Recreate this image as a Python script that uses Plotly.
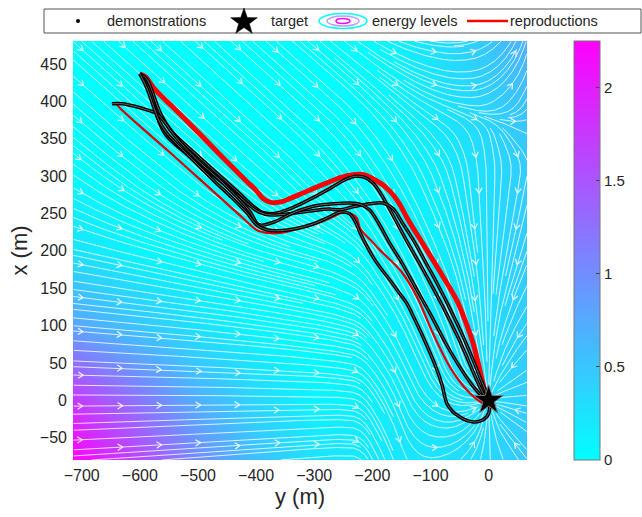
import math
from bisect import bisect_right
import numpy as np
import plotly.graph_objects as go

# ---------------- axis extents (horizontal = "y (m)", vertical = "x (m)") ----
H_RANGE = [-715, 66]
V_RANGE = [-80, 481]
H_TICKS = [-700, -600, -500, -400, -300, -200, -100, 0]
V_TICKS = [-50, 0, 50, 100, 150, 200, 250, 300, 350, 400, 450]
CB_TICKS = [0, 0.5, 1, 1.5, 2]
LEGEND_NAMES = ["demonstrations", "target", "energy levels", "reproductions"]

# ---------------- demonstrations (y = horizontal, x = vertical) --------------
demo1_y = [-600, -588, -578, -565, -545, -510, -470, -430, -405, -390, -370, -340, -300, -270, -245, -228,
           -212, -198, -185, -165, -140, -115, -90, -65, -42, -25, -12, -4, 0]
demo1_x = [437, 430, 412, 385, 360, 334, 306, 278, 260, 252, 250, 257, 272, 285, 296, 300,
           298, 290, 276, 248, 212, 178, 142, 104, 66, 35, 13, 3, 0]
demo2_y = [-600, -585, -575, -568, -555, -520, -480, -440, -410, -395, -375, -340, -300, -275, -256, -233,
           -205, -182, -165, -148, -130, -110, -89, -70, -49, -30, -15, -5, 0]
demo2_x = [437, 418, 395, 375, 355, 330, 305, 280, 260, 252, 248, 250, 254, 256, 255, 259,
           263, 264, 257, 237, 215, 187, 157, 128, 94, 60, 31, 12, 0]
demo3_y = [-648, -630, -606, -585, -571, -560, -548, -530, -500, -460, -430, -410, -395, -368, -336, -300,
           -267, -239, -220, -205, -190, -170, -150, -125, -100, -75, -50, -28, -12, 0]
demo3_x = [397, 397, 393, 388, 384, 375, 362, 345, 321, 293, 270, 252, 235, 239, 251, 260,
           263, 264, 262, 255, 238, 210, 185, 150, 115, 78, 45, 20, 6, 0]
demo4_y = [-600, -592, -584, -576, -568, -556, -530, -500, -470, -440, -415, -398, -380, -359, -330, -302,
           -275, -255, -240, -230, -221, -210, -199, -185, -170, -155, -141, -127, -113, -100,
           -89, -80, -72, -62, -50, -38, -27, -15, -3, 2, 0]
demo4_x = [437, 425, 410, 392, 376, 360, 338, 315, 292, 270, 250, 234, 228, 227, 230, 236,
           245, 252, 250, 240, 224, 207, 192, 176, 161, 145, 130, 108, 85, 62,
           41, 20, -4, -15, -22, -27, -29, -28, -22, -10, 0]
DEMOS = [(demo1_y, demo1_x), (demo2_y, demo2_x), (demo3_y, demo3_x), (demo4_y, demo4_x)]

# ---------------- reproductions ----------------------------------------------
rep1_y = [-600, -590, -577, -560, -540, -500, -460, -420, -400, -388, -375, -355, -336, -300, -278, -255,
          -233, -215, -200, -185, -170, -155, -141, -120, -96, -75, -55, -40, -27, -18, -10, -4, 0]
rep1_x = [437, 433, 419, 405, 390, 359, 327, 296, 281, 270, 265, 266, 272, 284, 291, 298,
          302, 302, 297, 290, 280, 265, 245, 218, 188, 161, 134, 106, 77, 50, 23, 8, 0]
rep2_y = [-648, -640, -634, -600, -550, -500, -450, -420, -399, -380, -359, -330, -302, -275, -251, -238,
          -227, -221, -200, -187, -152, -123, -96, -67, -38, -18, -8, 0]
rep2_x = [398, 396, 391, 367, 333, 298, 263, 242, 228, 224, 224, 229, 235, 243, 251, 250,
          244, 230, 212, 201, 174, 138, 90, 45, 14, 0, -4, 0]

TARGET_Y = [0]
TARGET_X = [0]

# ---------------- energy background -----------------
energy_y = [-715, -600, -500, -400, -300, -200, -100, 0, 66]
energy_x = [-80, 0, 100, 200, 300, 400, 481]
energy_z = [
    [2.25, 1.6, 1.0, 0.55, 0.25, 0.2, 0.25, 0.35, 0.5],
    [1.75, 1.2, 0.7, 0.35, 0.1, 0.15, 0.2, 0.3, 0.45],
    [0.8, 0.5, 0.25, 0.08, 0.0, 0.1, 0.2, 0.3, 0.45],
    [0.25, 0.08, 0.0, 0.0, 0.0, 0.05, 0.15, 0.3, 0.45],
    [0.05, 0.0, 0.0, 0.0, 0.0, 0.05, 0.15, 0.3, 0.45],
    [0.0, 0.0, 0.0, 0.0, 0.0, 0.05, 0.2, 0.4, 0.55],
    [0.0, 0.0, 0.0, 0.0, 0.0, 0.05, 0.25, 0.5, 0.7],
]

# ---------------- flow directions read from the streamlines (screen degrees) -
flow_y = [-715, -600, -500, -400, -300, -240, -205, -150, -80, -30, 0, 30, 66]
flow_x = [-80, -30, 0, 30, 60, 130, 200, 300, 350, 400, 481]
flow_angle = [
    [4, 4, 4, 5, 5, 0, -62, -72, 20, 60, 90, 115, 125],
    [2, 2, 2, 3, 3, -3, -58, -70, -10, 45, 90, 135, 150],
    [0, 0, 0, 0, 0, -5, -55, -68, -35, 0, None, 180, 175],
    [-1, -1, -2, -2, -3, -8, -52, -66, -60, -45, -90, -135, -150],
    [-3, -3, -4, -4, -6, -10, -50, -65, -70, -75, -90, -115, -135],
    [-6, -7, -8, -10, -12, -20, -52, -62, -68, -80, -90, -105, -120],
    [-12, -15, -18, -18, -15, -35, -57, -62, -68, -80, -90, -100, -110],
    [-35, -38, -40, -42, -48, -52, -57, -60, -70, -85, -90, -95, -100],
    [-40, -40, -42, -42, -45, -50, -53, -55, -50, -70, -80, -60, -30],
    [-42, -42, -42, -42, -42, -44, -45, -40, -20, 0, 25, 45, 65],
    [-42, -42, -42, -42, -40, -38, -33, -20, -5, 15, 35, 55, 75],
]

# ============================================================================
FIG_W, FIG_H = 642, 517
ML, MR, MT, MB = 73, 115, 41, 57
PW, PH = float(FIG_W - ML - MR), float(FIG_H - MT - MB)
H0, H1 = H_RANGE
V0, V1 = V_RANGE


def d2p(h, v):
    return (h - H0) / (H1 - H0) * PW, (v - V0) / (V1 - V0) * PH


def p2d(px, py):
    return H0 + px / PW * (H1 - H0), V0 + py / PH * (V1 - V0)


gx = [d2p(h, 0)[0] for h in flow_y]
gy = [d2p(0, v)[1] for v in flow_x]
GU = [[0.0 if a is None else math.cos(math.radians(a)) for a in row] for row in flow_angle]
GV = [[0.0 if a is None else math.sin(math.radians(a)) for a in row] for row in flow_angle]
nI, nJ = len(gx), len(gy)


def vel(px, py):
    i = min(max(bisect_right(gx, px) - 1, 0), nI - 2)
    j = min(max(bisect_right(gy, py) - 1, 0), nJ - 2)
    tx = min(max((px - gx[i]) / (gx[i + 1] - gx[i]), 0.0), 1.0)
    ty = min(max((py - gy[j]) / (gy[j + 1] - gy[j]), 0.0), 1.0)
    a, b, c, d = (1 - tx) * (1 - ty), tx * (1 - ty), (1 - tx) * ty, tx * ty
    u = a * GU[j][i] + b * GU[j][i + 1] + c * GU[j + 1][i] + d * GU[j + 1][i + 1]
    v = a * GV[j][i] + b * GV[j][i + 1] + c * GV[j + 1][i] + d * GV[j + 1][i + 1]
    return u, v, math.hypot(u, v)


TPX, TPY = d2p(TARGET_Y[0], TARGET_X[0])
CS = 8.6       # seed cell
FS = 3.0       # termination cell
ncx, ncy = int(math.ceil(PW / CS)), int(math.ceil(PH / CS))
nfx, nfy = int(math.ceil(PW / FS)) + 1, int(math.ceil(PH / FS)) + 1
coarse = np.zeros((ncx + 1, ncy + 1), dtype=bool)
fine = -np.ones((nfx + 1, nfy + 1), dtype=int)


def trace(px, py, sgn, lid):
    pts = []
    cur = (int(px / FS), int(py / FS))
    step = 1.0
    for _ in range(4000):
        u, v, n = vel(px, py)
        if n < 0.03:
            break
        mx, my = px + sgn * 0.5 * step * u / n, py + sgn * 0.5 * step * v / n
        u2, v2, n2 = vel(mx, my)
        if n2 < 0.03:
            break
        nx, ny = px + sgn * step * u2 / n2, py + sgn * step * v2 / n2
        if not (0 <= nx <= PW and 0 <= ny <= PH):
            break
        if math.hypot(nx - TPX, ny - TPY) < 2.0:
            pts.append((TPX, TPY))
            break
        c = (int(nx / FS), int(ny / FS))
        if c != cur:
            if fine[c] != -1 and fine[c] != lid:
                break
            fine[c] = lid
            cur = c
        coarse[int(nx / CS), int(ny / CS)] = True
        pts.append((nx, ny))
        px, py = nx, ny
    return pts


lines = []
N = ncx * ncy
lid = 0
for k in range(N):
    idx = (k * 7919) % N
    cx, cy = idx % ncx, idx // ncx
    if coarse[cx, cy]:
        continue
    sx, sy = (cx + 0.5) * CS, (cy + 0.5) * CS
    if sx > PW or sy > PH:
        continue
    fc = (int(sx / FS), int(sy / FS))
    if fine[fc] != -1:
        continue
    u, v, n = vel(sx, sy)
    if n < 0.05:
        continue
    fine[fc] = lid
    coarse[cx, cy] = True
    fwd = trace(sx, sy, 1, lid)
    bwd = trace(sx, sy, -1, lid)
    pts = bwd[::-1] + [(sx, sy)] + fwd
    if len(pts) > 4:
        lines.append(pts)
    lid += 1

sl_h, sl_v = [], []
allp, allt = [], []
for pts in lines:
    arr = np.array(pts)
    for (px, py) in pts:
        h, v = p2d(px, py)
        sl_h.append(h)
        sl_v.append(v)
    sl_h.append(None)
    sl_v.append(None)
    allp.append(arr)
    allt.append(np.gradient(arr, axis=0))
allp = np.vstack(allp)
allt = np.vstack(allt)

# arrowheads on a regular grid
ar_h, ar_v = [], []
L, ANG = 6.0, math.radians(32)
for ax_ in np.arange(10.0, PW, 39.3):
    for ay_ in np.arange(17.0, PH, 35.7):
        d = np.hypot(allp[:, 0] - ax_, allp[:, 1] - ay_)
        k = int(np.argmin(d))
        if d[k] > 7:
            continue
        px, py = allp[k]
        tx, ty = allt[k]
        tn = math.hypot(tx, ty)
        if tn < 1e-6:
            continue
        tx, ty = tx / tn, ty / tn
        h0, v0 = p2d(px, py)
        for s in (1, -1):
            ca, sa = math.cos(s * ANG), math.sin(s * ANG)
            bx = -(tx * ca - ty * sa)
            by = -(tx * sa + ty * ca)
            h1, v1 = p2d(px + L * bx, py + L * by)
            ar_h += [h1, h0, None]
            ar_v += [v1, v0, None]

# ============================================================================
cool = [[0, "rgb(0,255,255)"], [1, "rgb(255,0,255)"]]
fig = go.Figure()
fig.add_trace(go.Heatmap(
    x=energy_y, y=energy_x, z=energy_z, zsmooth="best", colorscale=cool, zmin=0, zmax=2.25,
    showscale=True, hoverinfo="skip", name="energy levels",
    colorbar=dict(
        xref="container", x=574 / FIG_W, xanchor="left", thickness=26, thicknessmode="pixels",
        yref="paper", y=0.5, yanchor="middle", len=1.0, lenmode="fraction",
        tickvals=CB_TICKS, ticktext=["0", "0.5", "1", "1.5", "2"], ticks="inside", ticklen=4,
        tickcolor="#444", outlinecolor="#777", outlinewidth=1, xpad=0, ypad=0,
        tickfont=dict(family="Liberation Sans, Arial", size=15, color="#262626"),
    ),
))
fig.add_trace(go.Scatter(x=sl_h, y=sl_v, mode="lines", line=dict(color="rgba(255,255,255,0.8)", width=1),
                         hoverinfo="skip"))
fig.add_trace(go.Scatter(x=ar_h, y=ar_v, mode="lines", line=dict(color="rgba(255,255,255,0.9)", width=1.2),
                         hoverinfo="skip"))
fig.add_trace(go.Scatter(x=rep2_y, y=rep2_x, mode="lines", name="reproductions",
                         line=dict(color="#e00000", width=2.2, shape="spline")))
fig.add_trace(go.Scatter(x=rep1_y, y=rep1_x, mode="lines", name="reproductions",
                         line=dict(color="#ff0000", width=5, shape="spline")))
for dy, dx in DEMOS:
    fig.add_trace(go.Scatter(x=dy, y=dx, mode="lines", name="demonstrations",
                             line=dict(color="black", width=3.5, shape="spline")))
    fig.add_trace(go.Scatter(x=dy, y=dx, mode="lines", hoverinfo="skip",
                             line=dict(color="rgba(140,140,140,0.7)", width=1, shape="spline")))
fig.add_trace(go.Scatter(x=TARGET_Y, y=TARGET_X, mode="markers", name="target",
                         marker=dict(symbol="star", size=22, color="black", line=dict(color="#777", width=1))))


# ---------------- legend (drawn in the top margin) ---------------------------
def px2paper(px, py):
    return (px - ML) / PW, (FIG_H - MB - py) / PH


LEG_Y = 21
shapes = []
annotations = []
bx0, by0 = px2paper(44, 9)
bx1, by1 = px2paper(641, 33)
shapes.append(dict(type="rect", xref="paper", yref="paper", x0=bx0, y0=by1, x1=bx1, y1=by0,
                   line=dict(color="#555", width=1), fillcolor="rgba(0,0,0,0)", layer="below"))
# dot glyph
dx0, dy0 = px2paper(76, LEG_Y + 2)
dx1, dy1 = px2paper(80, LEG_Y - 2)
shapes.append(dict(type="circle", xref="paper", yref="paper", x0=dx0, y0=dy1, x1=dx1, y1=dy0,
                   fillcolor="black", line=dict(width=0), layer="above"))
# star glyph
SCX, SCY, RO, RI = 244, LEG_Y + 1, 14, 5.6
pth = []
for k in range(10):
    rr = RO if k % 2 == 0 else RI
    a = math.radians(90 + 36 * k)
    qx, qy = px2paper(SCX + rr * math.cos(a), SCY - rr * math.sin(a))
    pth.append(("M" if k == 0 else "L") + f"{qx:.5f},{qy:.5f}")
shapes.append(dict(type="path", xref="paper", yref="paper", path=" ".join(pth) + " Z",
                   fillcolor="black", line=dict(color="black", width=0.5), layer="above"))
# energy levels glyph
for (w, hgt, col) in [(48, 15, "rgb(0,255,255)"), (32, 10, "rgb(180,160,255)"), (14, 5, "rgb(255,0,255)")]:
    x0, y0 = px2paper(343 - w / 2, LEG_Y + hgt / 2)
    x1, y1 = px2paper(343 + w / 2, LEG_Y - hgt / 2)
    shapes.append(dict(type="circle", xref="paper", yref="paper", x0=x0, y0=y0, x1=x1, y1=y1,
                       line=dict(color=col, width=1.5), layer="above"))
# reproductions glyph
lx0, ly = px2paper(467, LEG_Y)
lx1, _ = px2paper(508, LEG_Y)
shapes.append(dict(type="line", xref="paper", yref="paper", x0=lx0, y0=ly, x1=lx1, y1=ly,
                   line=dict(color="red", width=2.5), layer="above"))
for name, tpx in zip(LEGEND_NAMES, (105, 269, 370, 508)):
    ax_, ay_ = px2paper(tpx, LEG_Y)
    annotations.append(dict(text=name, xref="paper", yref="paper", x=ax_, y=ay_, xanchor="left",
                            yanchor="middle", showarrow=False,
                            font=dict(family="Liberation Sans, Arial", size=14.5, color="#262626")))

fig.update_layout(
    width=FIG_W, height=FIG_H, margin=dict(l=ML, r=MR, t=MT, b=MB),
    paper_bgcolor="white", plot_bgcolor="white", showlegend=False,
    font=dict(family="Liberation Sans, Arial", size=16, color="#262626"),
    xaxis=dict(range=H_RANGE, tickvals=H_TICKS, showgrid=False, zeroline=False, ticks="",
               automargin=False, ticklabelstandoff=4,
               title=dict(text="y (m)", font=dict(size=22), standoff=5), tickfont=dict(size=16)),
    yaxis=dict(range=V_RANGE, tickvals=V_TICKS, showgrid=False, zeroline=False, ticks="",
               automargin=False, ticklabelstandoff=5,
               title=dict(text="x (m)", font=dict(size=22), standoff=6), tickfont=dict(size=16)),
    shapes=shapes, annotations=annotations,
)
fig.write_html("out.html", config={"displayModeBar": False},
               post_script="document.body.style.margin='0';document.body.style.padding='0';")
